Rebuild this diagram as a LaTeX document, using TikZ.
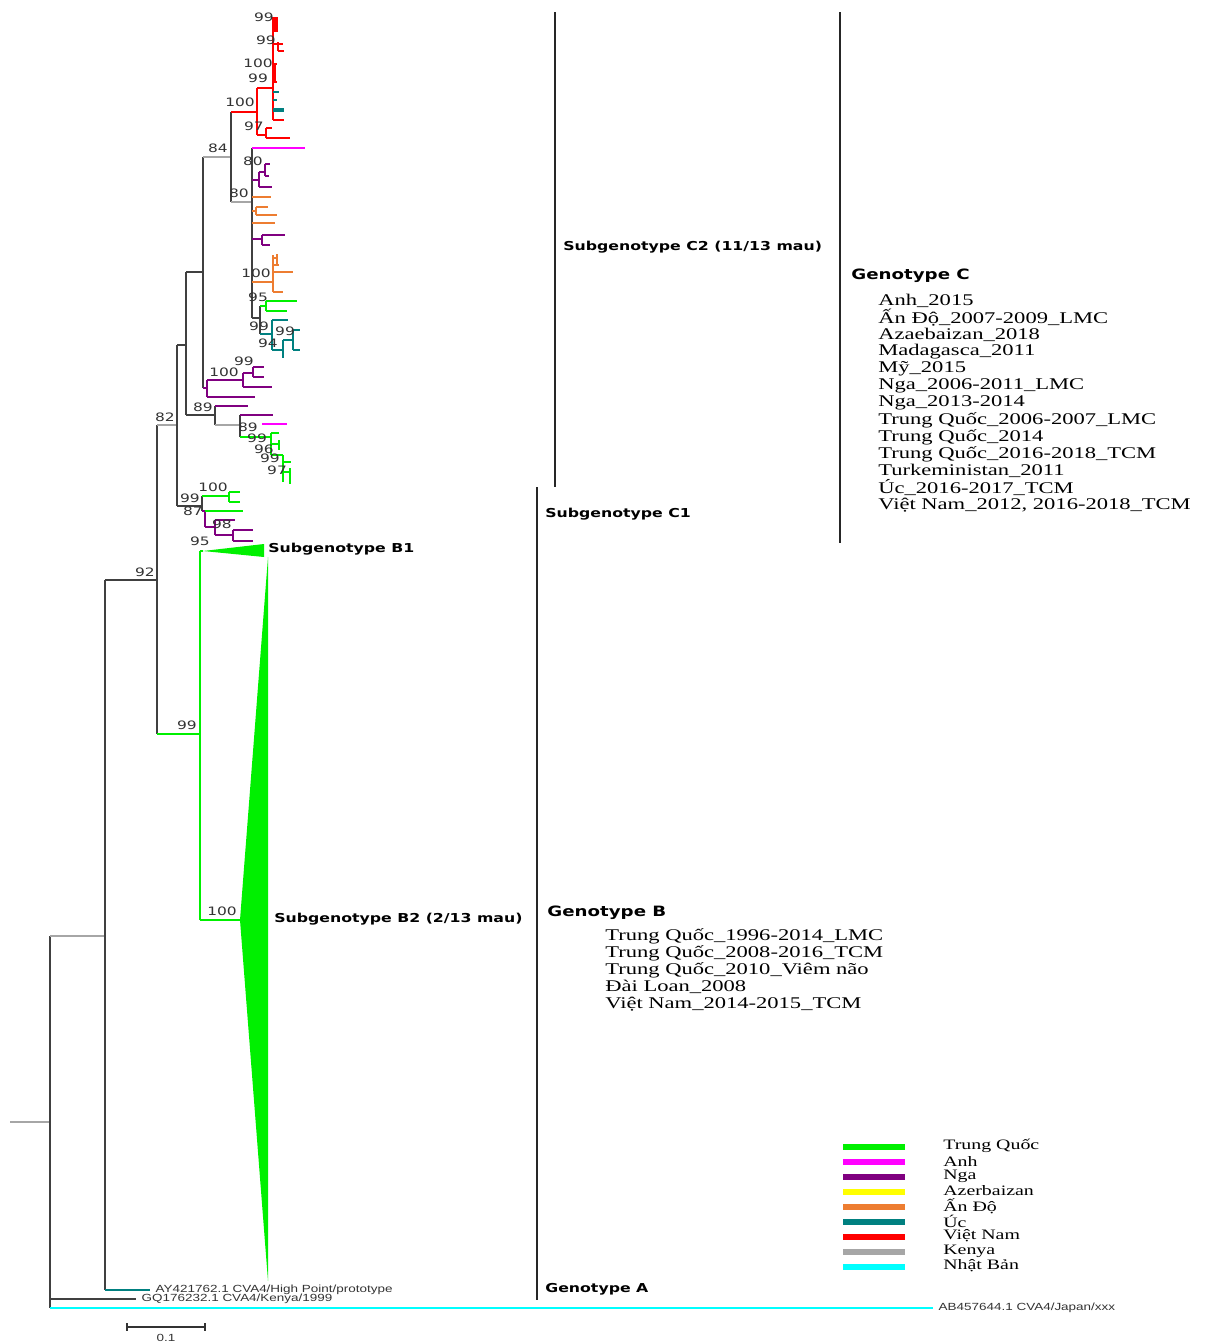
\documentclass[tikz,border=0pt]{standalone}
\usepackage{fontspec}
\setmainfont{Liberation Serif}
\newfontfamily\listfont[FakeStretch=1.38]{Liberation Serif}
\newfontfamily\labfont[FakeStretch=1.28]{DejaVu Sans}
\newfontfamily\bootfont[FakeStretch=1.33]{DejaVu Sans}
\newfontfamily\tipfont[FakeStretch=1.3]{Liberation Sans}
\usetikzlibrary{
  calc,        % coordinate calculation
  positioning  % relative placement of labels
}
\definecolor{treegray}{HTML}{404040}
\definecolor{tqgreen}{HTML}{00F000}
\definecolor{anhmag}{HTML}{FF00FF}
\definecolor{ngapur}{HTML}{800080}
\definecolor{azeyel}{HTML}{FFFF00}
\definecolor{andoor}{HTML}{ED7D31}
\definecolor{ucteal}{HTML}{008080}
\definecolor{vnred}{HTML}{FF0000}
\definecolor{kengray}{HTML}{A6A6A6}
\definecolor{jpcyan}{HTML}{00FFFF}
\tikzset{
  branch/.style={draw=treegray, line width=0.6pt},
  clade/.style={line width=1.1pt},
  boot/.style={font=\bootfont\fontsize{6.6}{7}\selectfont, text=black!80, inner sep=0pt},
  cladelabel/.style={font=\labfont\bfseries\fontsize{7}{8}\selectfont, anchor=west, inner sep=0pt},
  genolabel/.style={font=\labfont\bfseries\fontsize{8.1}{9}\selectfont, anchor=west, inner sep=0pt},
  tiplabel/.style={font=\tipfont\fontsize{5.9}{6}\selectfont, anchor=west, inner sep=0pt, text=black!80},
  listline/.style={font=\listfont\fontsize{9.3}{10}\selectfont, anchor=west, inner sep=0pt},
  keyline/.style={font=\listfont\fontsize{8.2}{9}\selectfont, anchor=west, inner sep=0pt},
  keybar/.style={line width=3.4pt},
  group bar/.style={draw=black!85, line width=0.8pt}
}

\begin{document}
\begin{tikzpicture}[x=0.02cm, y=-0.02cm]
  \useasboundingbox (0,0) rectangle (1208,1342);

  % 1. backbone of the tree
  \coordinate (stub) at (10,1122);
  \coordinate (root) at (50,1122);
  \coordinate (nA)   at (105,936);
  \coordinate (n92)  at (157,580);
  \coordinate (n82)  at (177,425);
  \coordinate (nC2)  at (186,345);
  \coordinate (n84)  at (203,272);
  \coordinate (nC1)  at (202,506);
  \coordinate (nB)   at (200,734);
  \coordinate (tAY)  at (150,1290);
  \coordinate (tKen) at (136,1299);
  \coordinate (tJap) at (933,1308);

  \draw[branch, draw=kengray] (stub) -- (root);
  \draw[branch] (root |- nA) -- (root |- tJap);
  \draw[branch, draw=kengray] (root |- nA) -- (nA);
  \draw[branch] (root |- tKen) -- (tKen);
  \draw[clade, jpcyan] (root |- tJap) -- (tJap);

  \draw[branch] (nA |- n92) -- (nA |- tAY);
  \draw[branch] (nA |- n92) -- (n92);
  \draw[clade, ucteal] (nA |- tAY) -- (tAY);

  \draw[branch] (n92 |- n82) -- (n92 |- nB);
  \draw[branch, draw=kengray] (n92 |- n82) -- (n82);
  \draw[clade, tqgreen] (n92 |- nB) -- (nB);

  \draw[branch] (n82 |- nC2) -- (n82 |- nC1);
  \draw[branch] (n82 |- nC2) -- (nC2);
  \draw[branch] (n82 |- nC1) -- (nC1);

  % 2. subgenotype C2
  \coordinate (n89)   at (215,415);
  \coordinate (nRC)   at (231,157);
  \coordinate (nP100) at (207,388);
  \coordinate (nVN)   at (257,112);
  \coordinate (n80)   at (252,202);
  \draw[branch] (nC2 |- n84) -- (nC2 |- n89);
  \draw[branch] (nC2 |- n84) -- (n84);
  \draw[branch] (nC2 |- n89) -- (n89);
  \draw[branch] (n84 |- nRC) -- (n84 |- nP100);
  \draw[branch, draw=kengray] (n84 |- nRC) -- (nRC);
  \draw[clade, ngapur] (n84 |- nP100) -- (nP100);
  \draw[branch] (nRC |- nVN) -- (nRC |- n80);
  \draw[clade, vnred] (nRC |- nVN) -- (nVN);
  \draw[branch, draw=kengray] (nRC |- n80) -- (n80);

  % Viet Nam (red) with Uc twigs
  \draw[clade, vnred] (257,88) -- (257,135) (257,88) -- (273,88);
  \draw[clade, vnred] (273,17) -- (273,120);
  \draw[vnred, line width=2pt] (276,17) -- (276,32);
  \draw[clade, vnred] (273,44) -- (278,44) (278,42) -- (278,51) (278,44) -- (283,44) (278,51) -- (284,51);
  \draw[clade, vnred] (275,64) -- (275,82) (273,64) -- (277,64) (273,82) -- (277,82);
  \draw[clade, ucteal] (273,92) -- (279,92) (273,100) -- (277,100);
  \draw[ucteal, line width=2pt] (273,110) -- (284,110);
  \draw[clade, vnred] (273,120) -- (284,120);
  \draw[clade, vnred] (257,135) -- (266,135) (266,128) -- (266,138) (266,128) -- (272,128) (266,138) -- (290,138);

  % node 80: Anh, Nga, An Do, Trung Quoc, Uc
  \draw[branch, line width=1pt] (n80 |- 0,148) -- (n80 |- 0,318);
  \draw[clade, anhmag] (252,148) -- (305,148);
  \draw[clade, ngapur] (252,180) -- (259,180) (259,172) -- (259,187) (259,172) -- (265,172)
    (265,164) -- (265,176) (265,164) -- (270,164) (265,176) -- (269,176) (259,187) -- (272,187);
  \draw[clade, andoor] (252,197) -- (271,197);
  \draw[clade, andoor] (252,211) -- (256,211) (256,207) -- (256,215) (256,207) -- (268,207) (256,215) -- (277,215);
  \draw[clade, andoor] (252,223) -- (275,223);
  \draw[clade, ngapur] (252,239) -- (262,239) (262,235) -- (262,245) (262,235) -- (285,235) (262,245) -- (270,245);
  \draw[clade, andoor] (252,282) -- (273,282) (273,255) -- (273,292) (273,272) -- (293,272) (273,292) -- (283,292)
    (273,258) -- (277,258) (277,254) -- (277,266) (273,265) -- (279,265);
  \draw[branch] (252,318) -- (260,318) (260,306) -- (260,334);
  \draw[clade, tqgreen] (260,306) -- (266,306) (266,301) -- (266,311) (266,301) -- (297,301) (266,311) -- (287,311);
  \draw[clade, ucteal] (260,334) -- (272,334) (272,320) -- (272,350) (272,320) -- (288,320)
    (272,350) -- (283,350) (283,340) -- (283,358) (283,340) -- (293,340) (293,330) -- (293,350)
    (293,330) -- (300,330) (293,350) -- (300,350);

  % Nga clade (100)
  \draw[clade, ngapur] (207,380) -- (207,397) (207,380) -- (243,380) (243,373) -- (243,387)
    (243,373) -- (253,373) (253,367) -- (253,377) (253,367) -- (264,367) (253,377) -- (264,377)
    (243,387) -- (272,387) (207,397) -- (255,397);

  % node 89
  \draw[branch] (215,406) -- (215,425);
  \draw[clade, ngapur] (215,406) -- (248,406);
  \draw[branch, draw=kengray] (215,425) -- (240,425);
  \draw[branch, line width=1pt] (240,415) -- (240,437);
  \draw[clade, ngapur] (240,415) -- (273,415);
  \draw[clade, anhmag] (262,424) -- (287,424);
  \draw[clade, tqgreen] (240,437) -- (271,437) (271,433) -- (271,455) (271,433) -- (279,433)
    (271,444) -- (279,444) (279,440) -- (279,450) (271,455) -- (283,455) (283,455) -- (283,482)
    (283,462) -- (291,462) (283,472) -- (290,472) (290,468) -- (290,484);

  % 3. subgenotype C1
  \draw[branch] (nC1 |- 0,496) -- (nC1 |- 0,511);
  \draw[clade, tqgreen] (202,496) -- (229,496) (229,492) -- (229,502) (229,492) -- (240,492) (229,502) -- (240,502);
  \draw[clade, ngapur] (202,511) -- (205,511) (205,511) -- (205,527) (205,527) -- (215,527)
    (215,520) -- (215,535) (215,520) -- (235,520) (215,535) -- (233,535)
    (233,530) -- (233,541) (233,530) -- (253,530) (233,541) -- (253,541);
  \draw[clade, tqgreen] (205,511) -- (243,511);

  % 4. genotype B (collapsed)
  \coordinate (nB1) at (203,551);
  \coordinate (nB2) at (240,920);
  \draw[clade, tqgreen] (nB |- nB1) -- (nB |- nB2);
  \draw[clade, tqgreen] (nB |- nB1) -- (nB1);
  \draw[clade, tqgreen] (nB |- nB2) -- (nB2);
  \fill[tqgreen] (nB1) -- (264,544) -- (264,557) -- cycle;
  \fill[tqgreen] (nB2) -- (268,557) -- (268,1281) -- cycle;

  % 5. bootstrap values
  \node[boot] (b01) at (264,17) {99};
  \node[boot] (b02) at (266,40) {99};
  \node[boot] (b03) at (258,63) {100};
  \node[boot] (b04) at (258,78) {99};
  \node[boot] (b05) at (240,102) {100};
  \node[boot] (b06) at (254,126) {97};
  \node[boot] (b07) at (218,148) {84};
  \node[boot] (b08) at (253,161) {80};
  \node[boot] (b09) at (239,193) {80};
  \node[boot] (b10) at (256,273) {100};
  \node[boot] (b11) at (258,297) {95};
  \node[boot] (b12) at (259,326) {99};
  \node[boot] (b13) at (285,331) {99};
  \node[boot] (b14) at (268,343) {94};
  \node[boot] (b15) at (244,361) {99};
  \node[boot] (b16) at (224,372) {100};
  \node[boot] (b17) at (203,407) {89};
  \node[boot] (b18) at (248,427) {89};
  \node[boot] (b19) at (257,438) {99};
  \node[boot] (b20) at (264,449) {96};
  \node[boot] (b21) at (270,458) {99};
  \node[boot] (b22) at (277,470) {97};
  \node[boot] (b23) at (165,417) {82};
  \node[boot] (b24) at (213,487) {100};
  \node[boot] (b25) at (190,498) {99};
  \node[boot] (b26) at (193,511) {87};
  \node[boot] (b27) at (222,524) {98};
  \node[boot] (b28) at (200,541) {95};
  \node[boot] (b29) at (145,572) {92};
  \node[boot] (b30) at (187,725) {99};
  \node[boot] (b31) at (222,911) {100};

  % 6. tip labels and scale bar
  \node[tiplabel, right=3pt of tAY] (lAY) {AY421762.1 CVA4/High Point/prototype};
  \node[tiplabel, right=3pt of tKen] (lKen) {GQ176232.1 CVA4/Kenya/1999};
  \node[tiplabel, right=3pt of tJap] (lJap) {AB457644.1 CVA4/Japan/xxx};
  \coordinate (sb0) at (127,1327);
  \coordinate (sb1) at (205,1327);
  \draw[branch, draw=black!80] (sb0) -- (sb1) (127,1323) -- (127,1331) (205,1323) -- (205,1331);
  \node[tiplabel, anchor=center] (sbl) at ($(sb0)!0.5!(sb1)+(0,11)$) {0.1};

  % 7. group bars and labels
  \draw[group bar] (555,12) -- (555,487);
  \draw[group bar] (840,12) -- (840,543);
  \draw[group bar] (537,487) -- (537,1300);
  \node[cladelabel] (lC2) at (563,247) {Subgenotype C2 (11/13 mau)};
  \node[cladelabel] (lC1) at (545,514) {Subgenotype C1};
  \node[cladelabel] (lB1) at (268,549) {Subgenotype B1};
  \node[cladelabel] (lB2) at (274,919) {Subgenotype B2 (2/13 mau)};
  \node[cladelabel] (gA)  at (545,1289) {Genotype A};
  \node[genolabel]  (gC)  at (851,276) {Genotype C};
  \node[genolabel]  (gB)  at (547,913) {Genotype B};

  \foreach \entry [count=\i from 0] in {Anh\_2015, Ấn Độ\_2007-2009\_LMC, Azaebaizan\_2018,
      Madagasca\_2011, Mỹ\_2015, Nga\_2006-2011\_LMC, Nga\_2013-2014,
      Trung Quốc\_2006-2007\_LMC, Trung Quốc\_2014, Trung Quốc\_2016-2018\_TCM,
      Turkeministan\_2011, Úc\_2016-2017\_TCM, {Việt Nam\_2012, 2016-2018\_TCM}}
    \node[listline] (lc\i) at (878,301+17*\i) {\entry};

  \foreach \entry [count=\i from 0] in {Trung Quốc\_1996-2014\_LMC, Trung Quốc\_2008-2016\_TCM,
      Trung Quốc\_2010\_Viêm não, Đài Loan\_2008, Việt Nam\_2014-2015\_TCM}
    \node[listline] (lb\i) at (605,936+17*\i) {\entry};

  % 8. legend
  \foreach \col/\name [count=\i from 0] in {tqgreen/Trung Quốc, anhmag/Anh, ngapur/Nga,
      azeyel/Azerbaizan, andoor/Ấn Độ, ucteal/Úc, vnred/Việt Nam, kengray/Kenya, jpcyan/Nhật Bản}
  {
    \draw[keybar, \col] (843,1147+15*\i) -- (905,1147+15*\i);
    \node[keyline] (key\i) at (943,1146+15*\i) {\name};
  }
\end{tikzpicture}
\end{document}
